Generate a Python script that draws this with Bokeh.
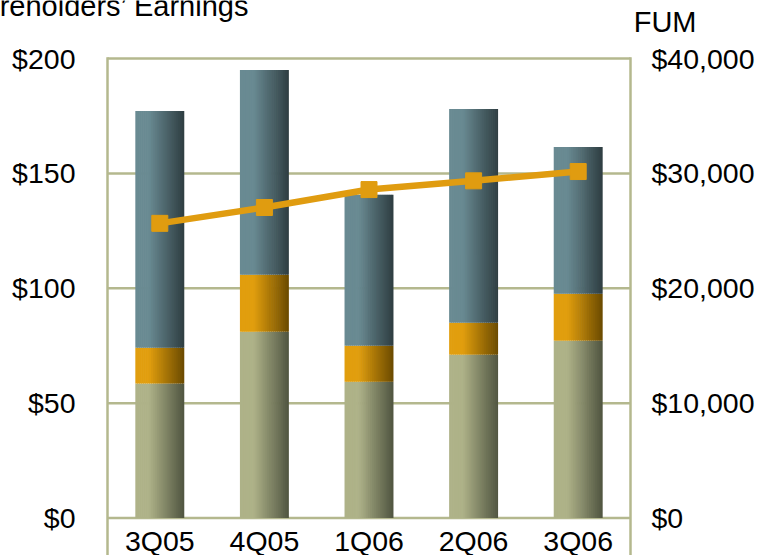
import numpy as np
from bokeh.plotting import figure
from bokeh.models import Range1d
from bokeh.core.properties import value
from bokeh.embed import file_html
from bokeh.resources import INLINE

# ---------------- data ----------------
categories = ["3Q05", "4Q05", "1Q06", "2Q06", "3Q06"]
seg_green = [58.5, 81.1, 59.3, 71.1, 77.2]
seg_orange = [15.6, 24.8, 15.7, 13.9, 20.4]
seg_blue = [103.1, 89.1, 65.7, 93.0, 63.9]
fum = [25650, 27030, 28590, 29350, 30160]
left_ticks = [0, 50, 100, 150, 200]
left_labels = ["$0", "$50", "$100", "$150", "$200"]
right_ticks = [0, 10000, 20000, 30000, 40000]
right_labels = ["$0", "$10,000", "$20,000", "$30,000", "$40,000"]
title_text = "Shareholders\u2019 Earnings"
right_title = "FUM"

# ---------------- layout / styles ----------------
W, H = 759, 555
FRAME_L, FRAME_R = 107, 630      # chart box edges (px)
TOP_PX, ZERO_PX = 58, 517.5      # px of y=200 and y=0
FONT = "Liberation Sans"
FS = "28.5px"
FS_T = "29px"
GRID = "#B4B88E"
LINE_C = "#E09C10"
GRADS = [  # (left colour, right colour)
    ((0xAE, 0xB2, 0x88), (0x4F, 0x54, 0x40)),
    ((0xE1, 0x9E, 0x0E), (0x6A, 0x4A, 0x00)),
    ((0x69, 0x8A, 0x92), (0x2E, 0x3D, 0x41)),
]
BAR_W = 0.468
N_STRIPS = 25

n = len(categories)
idx = np.arange(n)
U = (FRAME_R - FRAME_L) / n               # px per category
V = (ZERO_PX - TOP_PX) / left_ticks[-1]   # px per unit
YMAX = left_ticks[-1]
x_lo, x_hi = -0.5, n - 0.5
y_bot = -(H - ZERO_PX) / V
y_top = YMAX + TOP_PX / V
ratio = right_ticks[-1] / YMAX

def ypx(py):   # canvas px (from top) -> data y
    return (ZERO_PX - py) / V

def xpx(px):   # canvas px (from left) -> data x
    return x_lo + (px - FRAME_L) / U

p = figure(width=W, height=H,
           x_range=Range1d(x_lo - FRAME_L / U, x_lo + (W - FRAME_L) / U),
           y_range=Range1d(y_bot, y_top),
           output_backend="svg", toolbar_location=None,
           x_axis_location=None, y_axis_location=None, min_border=0)
p.background_fill_color = "white"
p.border_fill_color = "white"
p.outline_line_color = None
p.grid.visible = False
p.extra_y_ranges = {"fum": Range1d(y_bot * ratio, y_top * ratio)}

# grid lines and chart box
p.segment(x0=x_lo, x1=x_hi, y0=left_ticks, y1=left_ticks,
          line_color=GRID, line_width=2.5)
p.segment(x0=[x_lo, x_hi], x1=[x_lo, x_hi], y0=[y_bot] * 2, y1=[YMAX] * 2,
          line_color=GRID, line_width=2.5, line_cap="square")

# stacked bars with horizontal gradient (drawn as thin vertical strips)
bottoms = np.zeros(n)
ws = BAR_W / N_STRIPS
ov = ws * 0.35
for seg, (cl, cr) in zip([seg_green, seg_orange, seg_blue], GRADS):
    seg = np.array(seg, dtype=float)
    for k in range(N_STRIPS):
        t = (k + 0.5) / N_STRIPS
        f = min(1.0, max(0.0, (t - 0.28) / 0.72))
        col = "#%02x%02x%02x" % tuple(int(round(a + (b - a) * f)) for a, b in zip(cl, cr))
        w = ws + (ov if k < N_STRIPS - 1 else 0)
        off = -BAR_W / 2 + k * ws + w / 2
        p.vbar(x=idx + off, width=w, bottom=bottoms, top=bottoms + seg,
               fill_color=col, line_color=None)
    bottoms = bottoms + seg

# FUM line
p.line(x=idx, y=fum, y_range_name="fum", line_color=LINE_C, line_width=6.5)
p.scatter(x=idx, y=fum, y_range_name="fum", marker="square", size=16,
          fill_color=LINE_C, line_color=LINE_C)

txt = dict(text_font=value(FONT), text_color="black", text_baseline="middle")

# left / right tick labels
p.text(x=[xpx(FRAME_L - 32)] * len(left_ticks), y=left_ticks, text=left_labels,
       text_align="right", text_font_size=FS, **txt)
p.text(x=[xpx(FRAME_R + 21)] * len(right_ticks), y=[v / ratio for v in right_ticks],
       text=right_labels, text_align="left", text_font_size=FS, **txt)

# category labels
p.text(x=idx, y=[ypx(540)] * n, text=categories, text_align="center",
       text_font_size=FS, **txt)

# titles
p.text(x=[xpx(249)], y=[ypx(5.5)], text=[title_text], text_align="right",
       text_font_size=FS_T, **txt)
p.text(x=[xpx(696)], y=[ypx(21.5)], text=[right_title], text_align="right",
       text_font_size=FS_T, **txt)

open("out.html", "w").write(file_html(p, INLINE))
